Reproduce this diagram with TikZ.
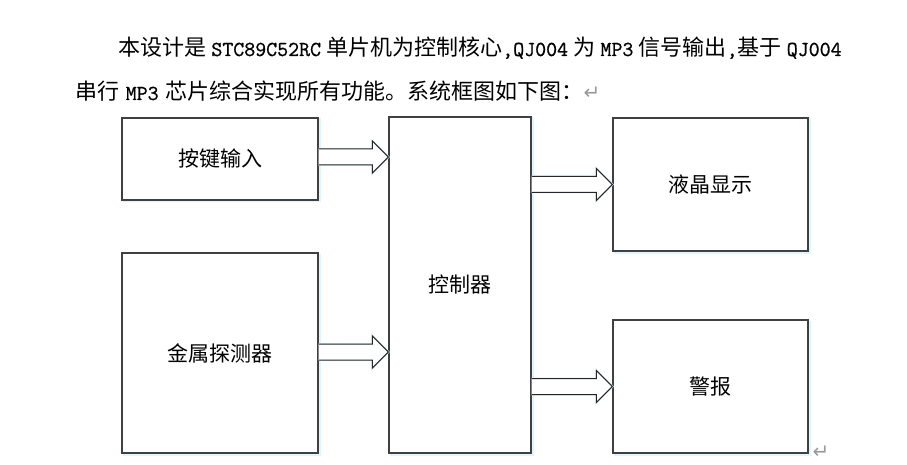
\documentclass[tikz,border=0pt]{standalone}
\usepackage{fontspec}
\newfontfamily\cjk{Noto Sans CJK SC}
\newfontfamily\sym{DejaVu Sans}
\newfontfamily\lat[FakeBold=0.8]{Latin Modern Mono}
\usetikzlibrary{calc}
\newcommand\lt[1]{{\lat\fontsize{21.3}{26}\selectfont #1}}
\newcommand\gp{\hspace{5.2pt}}
\newcommand\gq{\hspace{6.5pt}}
\newcommand\barr[2]{%
  \draw[arrshadow] let \p1=#1, \p2=#2 in (\x1,\y1+8pt) -- (\x2-16pt,\y1+8pt) -- (\x2-16pt,\y1+16pt) -- (\x2,\y1) -- (\x2-16pt,\y1-16pt) -- (\x2-16pt,\y1-8pt) -- (\x1,\y1-8pt);
  \draw[barrow] let \p1=#1, \p2=#2 in (\x1,\y1+8pt) -- (\x2-16pt,\y1+8pt) -- (\x2-16pt,\y1+16pt) -- (\x2,\y1) -- (\x2-16pt,\y1-16pt) -- (\x2-16pt,\y1-8pt) -- (\x1,\y1-8pt);}
\begin{document}
\begin{tikzpicture}[x=1pt,y=-1pt,
  txt/.style={anchor=base west, inner sep=0, font=\cjk\fontsize{22}{26}\selectfont},
  box/.style={draw=black!75, line width=1.2pt, fill=white, inner sep=0,
    font=\cjk\fontsize{21}{25}\selectfont},
  boxshadow/.style={draw=cyan!12, line width=2pt},
  barrow/.style={draw=black!85, line width=1pt, fill=white, line join=miter},
  arrshadow/.style={draw=cyan!15, line width=2pt, xshift=1pt, yshift=-1.5pt},
  ret/.style={inner sep=0, text=black!40, font=\sym\fontsize{20}{22}\selectfont}
  ]
\useasboundingbox (0,0) rectangle (907,465);
\fill[white] (0,0) rectangle (907,465);
% paragraph
\node[txt] (l1) at (118,56) {本设计是\gp\lt{STC89C52RC}\gp 单片机为控制核心\lt{,QJ004}\gp 为\gp\lt{MP3}\gp 信号输出\lt{,}基于\gp\lt{QJ004}};
\node[txt] (l2) at (75,100) {串行\gq\lt{MP3}\gq 芯片综合实现所有功能。系统框图如下图：};
\node[ret, anchor=west] (r1) at ($(l2.base east)+(0,-7)$) {↵};
% shadows of boxes
\draw[boxshadow] (123.5,119.5) rectangle (319.5,201.5);
\draw[boxshadow] (123.5,254.5) rectangle (319.5,454.5);
\draw[boxshadow] (390.5,118.5) rectangle (532.5,454.5);
\draw[boxshadow] (614.5,119.5) rectangle (809.5,252.5);
\draw[boxshadow] (614.5,321.5) rectangle (809.5,454.5);
% boxes
\node[box, minimum width=196pt, minimum height=82pt] (k) at (220,159) {按键输入};
\node[box, minimum width=196pt, minimum height=200pt] (m) at (220,353) {金属探测器};
\node[box, minimum width=142pt, minimum height=336pt] (c) at (460,285) {控制器};
\node[box, minimum width=195pt, minimum height=133pt] (lcd) at (710.5,184.5) {液晶显示};
\node[box, minimum width=195pt, minimum height=133pt] (al) at (710.5,386.5) {警报};
\node[ret] (r2) at (821,452) {↵};
% block arrows
\barr{($(k.east)+(0,-2)$)}{($(k.east -| c.west)+(0,-2)$)}
\barr{($(m.east)+(0,-1)$)}{($(m.east -| c.west)+(0,-1)$)}
\barr{(lcd.west -| c.east)}{(lcd.west)}
\barr{(al.west -| c.east)}{(al.west)}
\end{tikzpicture}
\end{document}
